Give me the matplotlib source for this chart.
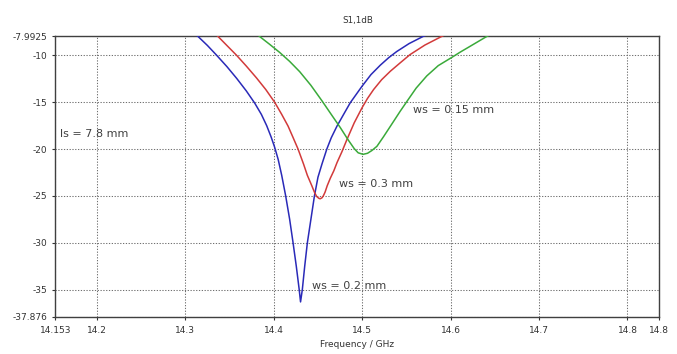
import matplotlib
matplotlib.use("Agg")
import matplotlib.pyplot as plt

# ---- data ----
blue_f = [14.310, 14.3144, 14.325, 14.335, 14.347, 14.358, 14.369, 14.3785, 14.386,
          14.392, 14.397, 14.401, 14.405, 14.409, 14.4135, 14.418, 14.4217, 14.4255,
          14.4288, 14.4303, 14.4323, 14.435, 14.438, 14.442, 14.446, 14.450, 14.4545,
          14.460, 14.465, 14.4715, 14.479, 14.4865, 14.493, 14.4998, 14.510, 14.5205,
          14.530, 14.539, 14.553, 14.569, 14.575]
blue_db = [-7.6, -7.99, -8.95, -9.95, -11.2, -12.45, -13.8, -15.1, -16.3,
           -17.5, -18.7, -19.8, -21.1, -22.8, -25.0, -27.5, -29.9, -32.5,
           -35.0, -36.3, -35.0, -32.5, -30.0, -27.5, -25.0, -23.0, -21.6,
           -20.0, -18.8, -17.55, -16.3, -15.06, -14.2, -13.3, -12.05, -11.05,
           -10.25, -9.6, -8.75, -7.98, -7.75]

red_f = [14.333, 14.337, 14.347, 14.358, 14.369, 14.3804, 14.391, 14.401, 14.409,
         14.4162, 14.422, 14.4275, 14.4337, 14.438, 14.443, 14.446, 14.4485, 14.4510,
         14.4525, 14.4545, 14.456, 14.458, 14.4605, 14.464, 14.468, 14.4715, 14.477,
         14.4828, 14.491, 14.4998, 14.506, 14.5129, 14.522, 14.5318, 14.543, 14.554,
         14.571, 14.590, 14.595]
red_db = [-7.6, -7.99, -8.95, -10.0, -11.15, -12.4, -13.65, -15.0, -16.3,
          -17.55, -18.8, -20.0, -21.6, -22.8, -23.9, -24.6, -25.05, -25.25,
          -25.3, -25.2, -25.0, -24.6, -23.9, -23.1, -22.3, -21.45, -20.3,
          -18.97, -17.2, -15.6, -14.6, -13.65, -12.6, -11.7, -10.8, -9.93,
          -8.9, -7.98, -7.75]

green_f = [14.380, 14.384, 14.395, 14.4068, 14.418, 14.4294, 14.442, 14.4545, 14.465,
           14.4752, 14.484, 14.491, 14.4955, 14.501, 14.506, 14.511, 14.5167, 14.524,
           14.532, 14.543, 14.5507, 14.561, 14.573, 14.586, 14.600, 14.611, 14.622,
           14.641, 14.646]
green_db = [-7.65, -7.99, -8.8, -9.7, -10.65, -11.75, -13.2, -14.85, -16.3,
            -17.7, -19.0, -19.95, -20.4, -20.56, -20.45, -20.15, -19.7, -18.7,
            -17.55, -15.96, -14.9, -13.5, -12.2, -11.1, -10.3, -9.65, -9.04,
            -7.98, -7.75]

x_ticks = [14.153, 14.2, 14.3, 14.4, 14.5, 14.6, 14.7, 14.8, 14.836]
x_labels = ["14.153", "14.2", "14.3", "14.4", "14.5", "14.6", "14.7", "14.8", "14.8"]
y_ticks = [-37.876, -35, -30, -25, -20, -15, -10, -7.9925]
y_labels = ["-37.876", "-35", "-30", "-25", "-20", "-15", "-10", "-7.9925"]

annotations = [
    ("ls = 7.8 mm", 14.158, -18.44),
    ("ws = 0.15 mm", 14.557, -15.78),
    ("ws = 0.3 mm", 14.474, -23.76),
    ("ws = 0.2 mm", 14.443, -34.57),
]

# ---- figure ----
plt.rcParams['font.family'] = ['DejaVu Sans']
fig = plt.figure(figsize=(6.77, 3.54), dpi=100)
ax = fig.add_axes([0.0817, 0.1054, 0.8922, 0.7915])

ax.plot(blue_f, blue_db, color="#2a2ab8", lw=1.1, zorder=3)
ax.plot(red_f, red_db, color="#d23a3a", lw=1.1, zorder=3)
ax.plot(green_f, green_db, color="#3aaa3a", lw=1.1, zorder=3)

ax.set_xlim(x_ticks[0], x_ticks[-1])
ax.set_ylim(y_ticks[0], y_ticks[-1])
ax.set_xticks(x_ticks)
ax.set_xticklabels(x_labels)
ax.set_yticks(y_ticks)
ax.set_yticklabels(y_labels)

ax.grid(True, linestyle=(0, (1.2, 1.5)), color="#707070", linewidth=0.75)
ax.tick_params(axis="both", labelsize=6.5, colors="#333333", length=2.2, width=0.8,
               direction="out")
ax.tick_params(axis="x", pad=4.3)
ax.tick_params(axis="y", pad=3.3)
for s in ax.spines.values():
    s.set_color("#404040")
    s.set_linewidth(1.0)

for txt, x, y in annotations:
    ax.text(x, y, txt, fontsize=8, color="#404040", ha="left", va="center", zorder=4)

ax.set_title("S1,1dB", fontsize=6.3, color="#333333", pad=10)
ax.set_xlabel("Frequency / GHz", fontsize=6.5, color="#333333", labelpad=4)

fig.savefig("out.png", dpi=100)
